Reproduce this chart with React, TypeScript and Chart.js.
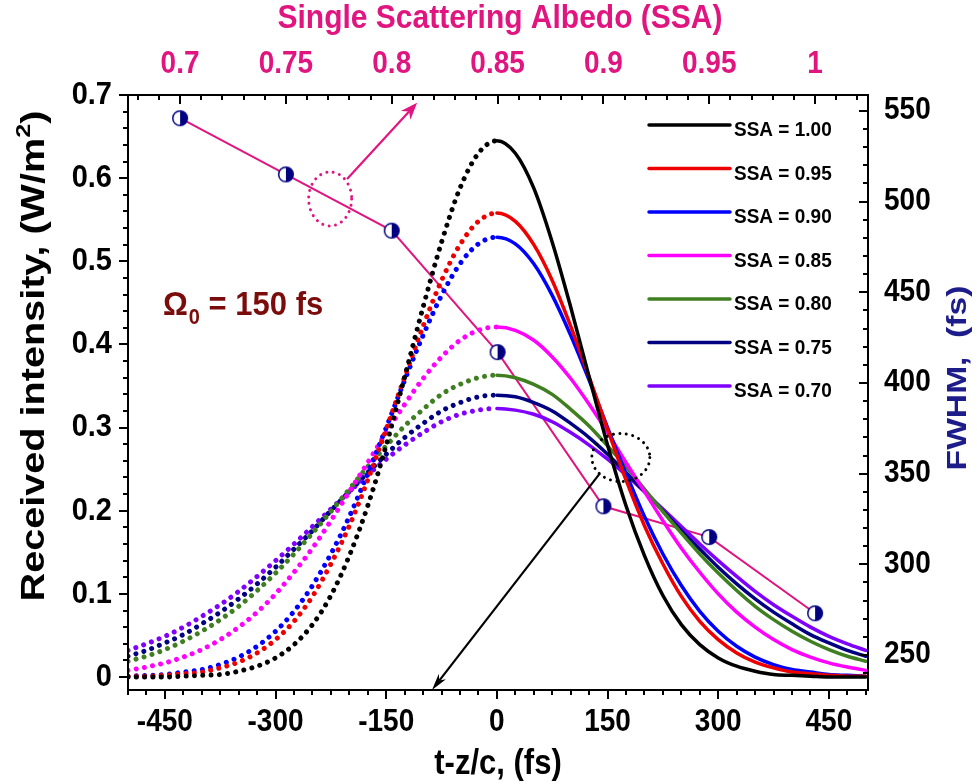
import React, { useEffect, useRef } from 'react';
import { Chart, registerables } from 'chart.js';

Chart.register(...registerables);

// ---------- data ----------
const timeFs = [-500, -475, -450, -425, -400, -375, -350, -325, -300, -275, -250, -225, -200, -175, -150, -125, -100, -75, -50, -25, 0, 25, 50, 75, 100, 125, 150, 175, 200, 225, 250, 275, 300, 325, 350, 375, 400, 425, 450, 475, 500];

const ssa100 = [0.000, 0.000, 0.000, 0.001, 0.002, 0.003, 0.007, 0.013, 0.023, 0.039, 0.063, 0.098, 0.146, 0.206, 0.279, 0.361, 0.445, 0.523, 0.588, 0.630, 0.645, 0.630, 0.588, 0.523, 0.445, 0.361, 0.279, 0.206, 0.146, 0.098, 0.063, 0.039, 0.023, 0.013, 0.007, 0.003, 0.002, 0.001, 0.000, 0.000, 0.000];
const ssa095 = [0.001, 0.001, 0.002, 0.004, 0.006, 0.011, 0.018, 0.029, 0.045, 0.067, 0.097, 0.136, 0.182, 0.237, 0.298, 0.361, 0.422, 0.477, 0.520, 0.548, 0.558, 0.548, 0.520, 0.477, 0.422, 0.361, 0.298, 0.237, 0.182, 0.136, 0.097, 0.067, 0.045, 0.029, 0.018, 0.011, 0.006, 0.004, 0.002, 0.001, 0.001];
const ssa090 = [0.001, 0.002, 0.003, 0.006, 0.009, 0.015, 0.024, 0.037, 0.055, 0.079, 0.110, 0.148, 0.193, 0.245, 0.300, 0.357, 0.411, 0.459, 0.497, 0.521, 0.529, 0.521, 0.497, 0.459, 0.411, 0.357, 0.300, 0.245, 0.193, 0.148, 0.110, 0.079, 0.055, 0.037, 0.024, 0.015, 0.009, 0.006, 0.003, 0.002, 0.001];
const ssa085 = [0.008, 0.012, 0.017, 0.024, 0.033, 0.045, 0.060, 0.078, 0.100, 0.126, 0.155, 0.188, 0.223, 0.258, 0.294, 0.328, 0.359, 0.385, 0.405, 0.417, 0.421, 0.417, 0.405, 0.385, 0.359, 0.328, 0.294, 0.258, 0.223, 0.188, 0.155, 0.126, 0.100, 0.078, 0.060, 0.045, 0.033, 0.024, 0.017, 0.012, 0.008];
const ssa080 = [0.019, 0.025, 0.033, 0.043, 0.055, 0.069, 0.085, 0.104, 0.125, 0.148, 0.173, 0.199, 0.226, 0.253, 0.278, 0.302, 0.322, 0.340, 0.352, 0.360, 0.363, 0.360, 0.352, 0.340, 0.322, 0.302, 0.278, 0.253, 0.226, 0.199, 0.173, 0.148, 0.125, 0.104, 0.085, 0.069, 0.055, 0.043, 0.033, 0.025, 0.019];
const ssa075 = [0.025, 0.032, 0.041, 0.051, 0.064, 0.078, 0.094, 0.112, 0.132, 0.154, 0.176, 0.200, 0.223, 0.246, 0.268, 0.288, 0.305, 0.320, 0.330, 0.337, 0.339, 0.337, 0.330, 0.320, 0.305, 0.288, 0.268, 0.246, 0.223, 0.200, 0.176, 0.154, 0.132, 0.112, 0.094, 0.078, 0.064, 0.051, 0.041, 0.032, 0.025];
const ssa070 = [0.032, 0.040, 0.049, 0.060, 0.073, 0.087, 0.103, 0.121, 0.140, 0.160, 0.181, 0.202, 0.223, 0.243, 0.262, 0.279, 0.294, 0.307, 0.316, 0.321, 0.323, 0.321, 0.316, 0.307, 0.294, 0.279, 0.262, 0.243, 0.223, 0.202, 0.181, 0.160, 0.140, 0.121, 0.103, 0.087, 0.073, 0.060, 0.049, 0.040, 0.032];

const curveLabels = ['SSA = 1.00', 'SSA = 0.95', 'SSA = 0.90', 'SSA = 0.85', 'SSA = 0.80', 'SSA = 0.75', 'SSA = 0.70'];
const curveValues = [ssa100, ssa095, ssa090, ssa085, ssa080, ssa075, ssa070];
const curveColors = ['#000000', '#ee0000', '#0000ff', '#ff00ff', '#3f7f20', '#000080', '#7f00ff'];

const ssaAxis = [0.70, 0.75, 0.80, 0.85, 0.90, 0.95, 1.00];
const fwhmFs = [546, 515, 484, 417, 332, 315, 273];

const bottomTicks = [-450, -300, -150, 0, 150, 300, 450];
const leftTicks = [0, 0.1, 0.2, 0.3, 0.4, 0.5, 0.6, 0.7];
const leftTickLabels = ['0', '0.1', '0.2', '0.3', '0.4', '0.5', '0.6', '0.7'];
const rightTicks = [250, 300, 350, 400, 450, 500, 550];
const topTicks = [0.7, 0.75, 0.8, 0.85, 0.9, 0.95, 1.0];
const topTickLabels = ['0.7', '0.75', '0.8', '0.85', '0.9', '0.95', '1'];

// ---------- styling ----------
const PINK = '#e0157f';
const NAVY = '#000080';
const MAROON = '#7a0c0c';
const FONT = '"Liberation Sans", Arial, Helvetica, sans-serif';

// draws text; sx/sy stretch the glyphs (after rotation, in the text's own frame)
function drawText(ctx: CanvasRenderingContext2D, s: string, x: number, y: number, size: number, color: string, align: CanvasTextAlign = 'center', rot = 0, sx = 1, sy = 1) {
  ctx.save();
  ctx.translate(x, y);
  if (rot) ctx.rotate(rot);
  ctx.scale(sx, sy);
  ctx.font = `bold ${size}px ${FONT}`;
  ctx.fillStyle = color;
  ctx.textAlign = align;
  ctx.textBaseline = 'middle';
  ctx.fillText(s, 0, 0);
  ctx.restore();
}

function drawArrow(ctx: CanvasRenderingContext2D, x1: number, y1: number, x2: number, y2: number, color: string, lw: number, headLen: number, headHalf: number) {
  const a = Math.atan2(y2 - y1, x2 - x1);
  const c = Math.cos(a), s = Math.sin(a);
  const bx = x2 - headLen * c, by = y2 - headLen * s;
  const nx = x2 - headLen * 0.7 * c, ny = y2 - headLen * 0.7 * s;
  ctx.save();
  ctx.strokeStyle = color;
  ctx.fillStyle = color;
  ctx.lineWidth = lw;
  ctx.beginPath();
  ctx.moveTo(x1, y1);
  ctx.lineTo(nx, ny);
  ctx.stroke();
  ctx.beginPath();
  ctx.moveTo(x2, y2);
  ctx.lineTo(bx + headHalf * s, by - headHalf * c);
  ctx.lineTo(nx, ny);
  ctx.lineTo(bx - headHalf * s, by + headHalf * c);
  ctx.closePath();
  ctx.fill();
  ctx.restore();
}

function dottedEllipse(ctx: CanvasRenderingContext2D, cx: number, cy: number, rx: number, ry: number, color: string) {
  ctx.save();
  ctx.strokeStyle = color;
  ctx.lineWidth = 3;
  ctx.lineCap = 'round';
  ctx.setLineDash([0.01, 6.5]);
  ctx.beginPath();
  ctx.ellipse(cx, cy, rx, ry, 0, 0, Math.PI * 2);
  ctx.stroke();
  ctx.restore();
}

const decorPlugin = {
  id: 'decor',
  afterDatasetsDraw(chart: any) {
    const ctx: CanvasRenderingContext2D = chart.ctx;
    const { x, y, x2, y2 } = chart.scales;
    dottedEllipse(ctx, x2.getPixelForValue(0.7709), y2.getPixelForValue(501.5), 21.5, 27, PINK);
    drawArrow(ctx, x2.getPixelForValue(0.7789), y2.getPixelForValue(512.5), x2.getPixelForValue(0.812), y2.getPixelForValue(554.5), PINK, 2.2, 17, 6.5);
    dottedEllipse(ctx, x.getPixelForValue(168), y.getPixelForValue(0.264), 29, 24, '#000');
    drawArrow(ctx, x.getPixelForValue(139.6), y.getPixelForValue(0.245), x.getPixelForValue(-88), y.getPixelForValue(-0.0156), '#000', 2.2, 17, 4.5);
  },
  afterDraw(chart: any) {
    const ctx: CanvasRenderingContext2D = chart.ctx;
    const { x, y, x2, y2 } = chart.scales;
    const { left, right, top, bottom } = chart.chartArea;
    ctx.save();
    ctx.strokeStyle = '#000';
    ctx.lineWidth = 2;
    ctx.lineCap = 'butt';
    ctx.strokeRect(left, top, right - left, bottom - top);
    const MAJ = 9, MIN = 5;
    ctx.beginPath();
    for (let v = -500; v <= 500; v += 25) {
      const px = Math.round(x.getPixelForValue(v));
      const L = v % 150 === 0 ? MAJ : MIN;
      ctx.moveTo(px, bottom); ctx.lineTo(px, bottom + L);
    }
    for (let i = 68; i <= 102; i++) {
      const px = Math.round(x2.getPixelForValue(i / 100));
      const L = i % 5 === 0 ? MAJ : MIN;
      ctx.moveTo(px, top); ctx.lineTo(px, top + L);
    }
    for (let i = 0; i <= 35; i++) {
      const py = Math.round(y.getPixelForValue(i * 0.02));
      const L = i % 5 === 0 ? MAJ : MIN;
      ctx.moveTo(left, py); ctx.lineTo(left - L, py);
    }
    for (let v = 240; v <= 550; v += 10) {
      const py = Math.round(y2.getPixelForValue(v));
      const L = v % 50 === 0 ? MAJ : MIN;
      ctx.moveTo(right, py); ctx.lineTo(right - L, py);
    }
    ctx.stroke();
    ctx.restore();

    const TS = 28, TSY = 1.1;
    bottomTicks.forEach((v) => drawText(ctx, String(v), x.getPixelForValue(v), 723, TS, '#000', 'center', 0, 1, TSY));
    leftTicks.forEach((v, i) => drawText(ctx, leftTickLabels[i], left - 16, y.getPixelForValue(v), TS + 1, '#000', 'right', 0, 1, TSY));
    rightTicks.forEach((v) => drawText(ctx, String(v), right + 16, y2.getPixelForValue(v), TS, '#000', 'left', 0, 1, TSY));
    topTicks.forEach((v, i) => drawText(ctx, topTickLabels[i], x2.getPixelForValue(v), 65, TS, PINK, 'center', 0, 1, TSY));

    drawText(ctx, 'Single Scattering Albedo (SSA)', (left + right) / 2 + 2, 19, 30, PINK, 'center', 0, 1, 1.12);
    drawText(ctx, 't-z/c, (fs)', (left + right) / 2, 764, 31, '#000', 'center', 0, 1, 1.15);
    drawText(ctx, 'FWHM,  (fs)', 958, 378, 28, '#1c1c8a', 'center', -Math.PI / 2, 1.2, 1);

    // left title with superscript (rotated, stretched along its length)
    ctx.save();
    ctx.translate(32, 356);
    ctx.rotate(-Math.PI / 2);
    ctx.scale(1.2, 1);
    ctx.fillStyle = '#000';
    ctx.textBaseline = 'alphabetic';
    ctx.textAlign = 'left';
    const big = 33, small = 21;
    ctx.font = `bold ${big}px ${FONT}`;
    const p1 = 'Received intensity, (W/m', p3 = ')';
    const w1 = ctx.measureText(p1).width, w3 = ctx.measureText(p3).width;
    ctx.font = `bold ${small}px ${FONT}`;
    const w2 = ctx.measureText('2').width;
    let sx = -(w1 + w2 + w3) / 2;
    const base = big * 0.36;
    ctx.font = `bold ${big}px ${FONT}`;
    ctx.fillText(p1, sx, base);
    sx += w1;
    ctx.font = `bold ${small}px ${FONT}`;
    ctx.fillText('2', sx, base - big * 0.42);
    sx += w2;
    ctx.font = `bold ${big}px ${FONT}`;
    ctx.fillText(p3, sx, base);
    ctx.restore();

    // Omega annotation
    ctx.save();
    ctx.translate(163, 315);
    ctx.scale(1, 1.1);
    ctx.fillStyle = MAROON;
    ctx.textBaseline = 'alphabetic';
    ctx.textAlign = 'left';
    ctx.font = `bold 31px ${FONT}`;
    let ox = 0;
    ctx.fillText('\u03A9', ox, 0);
    ox += ctx.measureText('\u03A9').width + 1;
    ctx.font = `bold 20px ${FONT}`;
    ctx.fillText('0', ox, 8);
    ox += ctx.measureText('0').width;
    ctx.font = `bold 31px ${FONT}`;
    ctx.fillText(' = 150 fs', ox, 0);
    ctx.restore();

    // legend
    ctx.save();
    curveLabels.forEach((lab, i) => {
      const ly = 125 + i * 43.5;
      ctx.strokeStyle = curveColors[i];
      ctx.lineWidth = 3.5;
      ctx.lineCap = 'round';
      ctx.beginPath();
      ctx.moveTo(649, ly);
      ctx.lineTo(730, ly);
      ctx.stroke();
      drawText(ctx, lab, 734, ly + 6, 19, '#000', 'left', 0, 1, 1.05);
    });
    ctx.restore();
  },
};

export default function App() {
  const ref = useRef<HTMLCanvasElement>(null);
  useEffect(() => {
    const canvas = ref.current;
    if (!canvas) return;
    const marker = document.createElement('canvas');
    marker.width = 18;
    marker.height = 18;
    const m = marker.getContext('2d')!;
    m.beginPath(); m.arc(9, 9, 7.3, Math.PI / 2, Math.PI * 1.5); m.closePath(); m.fillStyle = '#ffffff'; m.fill();
    m.beginPath(); m.arc(9, 9, 7.3, -Math.PI / 2, Math.PI / 2); m.closePath(); m.fillStyle = NAVY; m.fill();
    m.beginPath(); m.arc(9, 9, 7.3, 0, Math.PI * 2); m.lineWidth = 1.5; m.strokeStyle = NAVY; m.stroke();

    const datasets: any[] = curveLabels.map((lab, k) => ({
      label: lab,
      data: timeFs.map((t, i) => ({ x: t, y: curveValues[k][i] })),
      borderColor: curveColors[k],
      backgroundColor: curveColors[k],
      borderWidth: 3.5,
      borderCapStyle: 'round',
      pointRadius: 0,
      cubicInterpolationMode: 'monotone',
      xAxisID: 'x',
      yAxisID: 'y',
      segment: {
        borderDash: (s: any) => (s.p0.parsed.x < 0 ? [0.01, 8.3] : undefined),
        borderWidth: (s: any) => (s.p0.parsed.x < 0 ? 5 : undefined),
      },
    }));
    datasets.push({
      label: 'FWHM',
      data: ssaAxis.map((s, i) => ({ x: s, y: fwhmFs[i] })),
      borderColor: PINK,
      backgroundColor: NAVY,
      borderWidth: 2,
      pointStyle: marker,
      pointRadius: 8,
      tension: 0,
      xAxisID: 'x2',
      yAxisID: 'y2',
    });

    const chart = new Chart(canvas, {
      type: 'line',
      data: { datasets },
      options: {
        responsive: false,
        animation: false,
        devicePixelRatio: 1,
        events: [],
        layout: { padding: { left: 128, right: 109, top: 95, bottom: 94 } },
        plugins: { legend: { display: false }, tooltip: { enabled: false } },
        scales: {
          x: { type: 'linear', min: -500, max: 503, display: false },
          y: { type: 'linear', min: -0.0156, max: 0.7, display: false },
          x2: { type: 'linear', min: 0.6754, max: 1.025, display: false },
          y2: { type: 'linear', min: 230.7, max: 558.8, display: false },
        },
      } as any,
      plugins: [decorPlugin],
    });
    return () => chart.destroy();
  }, []);
  return (
    <canvas
      ref={ref}
      width={977}
      height={784}
      style={{ position: 'absolute', left: 0, top: 0, width: 977, height: 784, background: '#fff' }}
    />
  );
}
